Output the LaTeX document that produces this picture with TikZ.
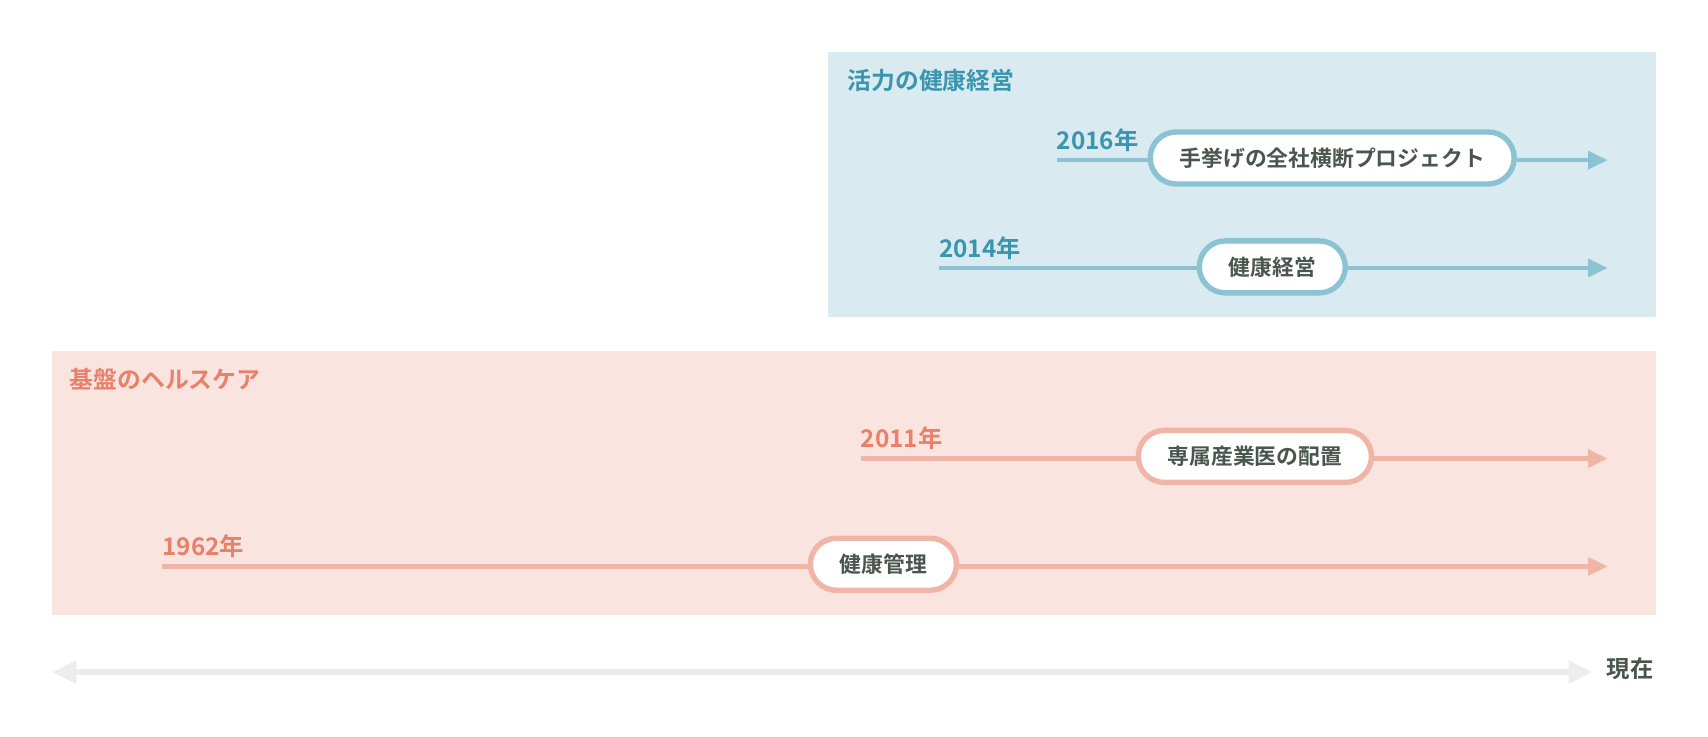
\documentclass[tikz,border=0pt]{standalone}
\usepackage{fontspec}
\setmainfont{Noto Sans CJK JP}[BoldFont={Noto Sans CJK JP Bold}]
\usetikzlibrary{arrows.meta}
\definecolor{bluebg}{HTML}{D9EBF0}
\definecolor{blueln}{HTML}{8BC3D3}
\definecolor{bluetx}{HTML}{3A95AE}
\definecolor{pinkbg}{HTML}{FAE4E0}
\definecolor{pinkln}{HTML}{F1B5A7}
\definecolor{pinktx}{HTML}{E8806A}
\definecolor{pilltx}{HTML}{4A5550}
\definecolor{axisc}{HTML}{EDEDED}
\tikzset{
  pill/.style={draw, line width=5.4pt, fill=white, rounded corners=26pt, minimum height=52pt,
    inner xsep=29.4pt, inner ysep=0pt, text=pilltx, font=\bfseries\fontsize{21.8pt}{26pt}\selectfont},
  yearlbl/.style={anchor=base west, inner sep=0pt, font=\bfseries\fontsize{24.3pt}{28pt}\selectfont},
  titlelbl/.style={anchor=base west, inner sep=0pt, font=\bfseries\fontsize{23.8pt}{28pt}\selectfont},
  tl/.style={line width=4.4pt},
  tlarrow/.style={line width=4.4pt, -{Triangle[length=19.6pt,width=17.4pt]}},
}
\begin{document}
\begin{tikzpicture}[x=1.0893pt,y=-1.0893pt]
\useasboundingbox (0,0) rectangle (1568,675.7);
% group boxes
\fill[bluebg] (760,48) rectangle (1520,291);
\fill[pinkbg] (48,322) rectangle (1520,565);
\node[titlelbl, text=bluetx] (tblue) at (778,82) {活力の健康経営};
\node[titlelbl, text=pinktx] (tpink) at (64,357) {基盤のヘルスケア};
% 2016
\coordinate (s16) at (970,147);
\coordinate (e16) at (1476,147);
\node[pill, draw=blueln] (p16) at (1223,145) {手挙げの全社横断プロジェクト};
\node[yearlbl, text=bluetx] (y16) at (970,137) {2016年};
\draw[tl, blueln] (s16) -- (p16.west |- s16);
\draw[tlarrow, blueln] (p16.east |- e16) -- (e16);
% 2014
\coordinate (s14) at (862,246);
\coordinate (e14) at (1476,246);
\node[pill, draw=blueln] (p14) at (1168,245) {健康経営};
\node[yearlbl, text=bluetx] (y14) at (862,236) {2014年};
\draw[tl, blueln] (s14) -- (p14.west |- s14);
\draw[tlarrow, blueln] (p14.east |- e14) -- (e14);
% 2011
\coordinate (s11) at (790,421);
\coordinate (e11) at (1476,421);
\node[pill, draw=pinkln] (p11) at (1152,419) {専属産業医の配置};
\node[yearlbl, text=pinktx] (y11) at (790,411) {2011年};
\draw[tl, pinkln] (s11) -- (p11.west |- s11);
\draw[tlarrow, pinkln] (p11.east |- e11) -- (e11);
% 1962
\coordinate (s62) at (149,520);
\coordinate (e62) at (1476,520);
\node[pill, draw=pinkln] (p62) at (811,518) {健康管理};
\node[yearlbl, text=pinktx] (y62) at (149,510) {1962年};
\draw[tl, pinkln] (s62) -- (p62.west |- s62);
\draw[tlarrow, pinkln] (p62.east |- e62) -- (e62);
% axis
\coordinate (ax1) at (48,617);
\coordinate (ax2) at (1462,617);
\draw[axisc, line width=6.5pt, {Triangle[length=24pt,width=21.8pt]}-{Triangle[length=24pt,width=21.8pt]}] (ax1) -- (ax2);
\node[anchor=west, inner sep=0pt, text=pilltx, font=\bfseries\fontsize{23.4pt}{28pt}\selectfont] (now) at (1475,614) {現在};
\end{tikzpicture}
\end{document}
